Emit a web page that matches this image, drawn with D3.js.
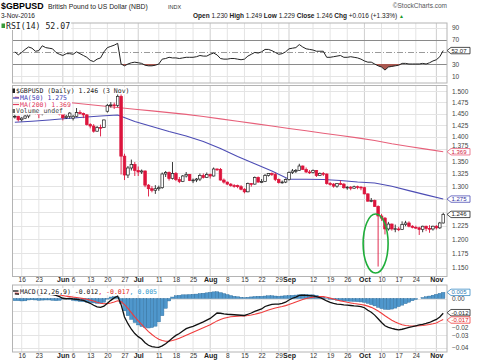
<!DOCTYPE html>
<html>
<head>
<meta charset="utf-8">
<script src="https://cdn.jsdelivr.net/npm/d3@7"></script>
<style>
body { margin: 0; background: #fff; }
svg { display: block; }
text { font-family: "Liberation Sans", Arial, sans-serif; }
.mono { font-family: "DejaVu Sans Mono", monospace; }
</style>
</head>
<body>
<div id="chart"></div>
<script>
// ---- data ----
var firstDay = "2016-05-12", lastDay = "2016-11-03";   // daily bars, weekdays only

var open = [
  1.4430,1.4440,1.4365,1.4400,1.4445,1.4600,1.4610,1.4500,1.4490,1.4630,
  1.4680,1.4690,1.4620,1.4640,1.4485,1.4410,1.4440,1.4400,1.4440,1.4520,
  1.4500,1.4470,1.4260,1.4230,1.4120,1.4200,1.4200,1.4550,1.4680,1.4690,
  1.4680,1.4880,1.3600,1.3220,1.3360,1.3430,1.3310,1.3280,1.3300,1.3020,
  1.2950,1.2920,1.2950,1.2970,1.3240,1.3270,1.3150,1.3250,1.3130,1.3090,
  1.3200,1.3230,1.3110,1.3120,1.3140,1.3210,1.3170,1.3230,1.3200,1.3340,
  1.3330,1.3120,1.3080,1.3040,1.3010,1.3010,1.2990,1.2940,1.2890,1.3050,
  1.3040,1.3170,1.3080,1.3090,1.3210,1.3250,1.3230,1.3130,1.3070,1.3080,
  1.3130,1.3270,1.3300,1.3310,1.3400,1.3330,1.3280,1.3270,1.3310,1.3210,
  1.3250,1.3240,1.3050,1.3040,1.3000,1.3050,1.3040,1.2970,1.2980,1.2960,
  1.2990,1.2980,1.2970,1.2850,1.2710,1.2720,1.2610,1.2430,1.2390,1.2190,
  1.2280,1.2190,1.2190,1.2180,1.2270,1.2300,1.2240,1.2220,1.2210,1.2180,
  1.2240,1.2200,1.2190,1.2240,1.2210,1.2300];
var high = [
  1.4470,1.4450,1.4420,1.4470,1.4630,1.4680,1.4620,1.4530,1.4650,1.4720,
  1.4770,1.4700,1.4660,1.4660,1.4510,1.4470,1.4530,1.4470,1.4620,1.4570,
  1.4520,1.4490,1.4290,1.4270,1.4230,1.4260,1.4370,1.4710,1.4750,1.4740,
  1.5020,1.5000,1.3650,1.3400,1.3530,1.3480,1.3390,1.3330,1.3310,1.3040,
  1.3000,1.3020,1.3010,1.3270,1.3300,1.3290,1.3480,1.3280,1.3180,1.3220,
  1.3280,1.3240,1.3150,1.3160,1.3250,1.3250,1.3270,1.3250,1.3370,1.3350,
  1.3360,1.3150,1.3090,1.3060,1.3040,1.3030,1.3020,1.2960,1.3070,1.3060,
  1.3190,1.3190,1.3140,1.3240,1.3260,1.3270,1.3270,1.3150,1.3110,1.3150,
  1.3290,1.3340,1.3340,1.3445,1.3410,1.3370,1.3320,1.3330,1.3320,1.3270,
  1.3280,1.3250,1.3080,1.3060,1.3060,1.3110,1.3060,1.3000,1.3000,1.3010,
  1.3010,1.3000,1.2990,1.2860,1.2770,1.2740,1.2630,1.2470,1.2410,1.2320,
  1.2290,1.2270,1.2230,1.2330,1.2340,1.2330,1.2260,1.2250,1.2230,1.2250,
  1.2250,1.2260,1.2250,1.2260,1.2320,1.2490];
var low = [
  1.4390,1.4330,1.4330,1.4380,1.4400,1.4560,1.4480,1.4400,1.4460,1.4610,
  1.4660,1.4580,1.4590,1.4460,1.4350,1.4380,1.4390,1.4350,1.4420,1.4480,
  1.4400,1.4240,1.4180,1.4090,1.4110,1.4010,1.4190,1.4520,1.4630,1.4600,
  1.4640,1.3230,1.3120,1.3160,1.3310,1.3200,1.3200,1.3240,1.2980,1.2800,
  1.2880,1.2850,1.2910,1.2950,1.3180,1.3110,1.3130,1.3100,1.3060,1.3080,
  1.3170,1.3100,1.3060,1.3080,1.3100,1.3150,1.3160,1.3150,1.3190,1.3300,
  1.3110,1.3050,1.3020,1.2990,1.2970,1.2960,1.2920,1.2860,1.2880,1.2990,
  1.3030,1.3070,1.3060,1.3080,1.3190,1.3200,1.3100,1.3050,1.3050,1.3060,
  1.3110,1.3240,1.3260,1.3300,1.3320,1.3260,1.3240,1.3250,1.3180,1.3200,
  1.3200,1.3030,1.3010,1.2970,1.2970,1.3020,1.2950,1.2930,1.2920,1.2950,
  1.2940,1.2920,1.2840,1.2700,1.2690,1.2600,1.1520,1.2340,1.2090,1.2160,
  1.2160,1.2130,1.2150,1.2170,1.2240,1.2220,1.2200,1.2190,1.2080,1.2130,
  1.2150,1.2120,1.2160,1.2180,1.2190,1.2290];
var close = [
  1.4440,1.4365,1.4400,1.4445,1.4600,1.4610,1.4500,1.4490,1.4630,1.4680,
  1.4690,1.4620,1.4640,1.4485,1.4410,1.4440,1.4510,1.4440,1.4520,1.4500,
  1.4470,1.4260,1.4230,1.4120,1.4200,1.4190,1.4360,1.4680,1.4690,1.4680,
  1.4880,1.3600,1.3220,1.3360,1.3430,1.3310,1.3280,1.3300,1.3020,1.2950,
  1.2920,1.2950,1.2970,1.3240,1.3270,1.3150,1.3250,1.3130,1.3090,1.3200,
  1.3230,1.3110,1.3120,1.3140,1.3210,1.3170,1.3230,1.3200,1.3340,1.3330,
  1.3120,1.3080,1.3040,1.3010,1.3005,1.2990,1.2940,1.2890,1.3050,1.3040,
  1.3170,1.3080,1.3090,1.3210,1.3250,1.3230,1.3130,1.3070,1.3080,1.3130,
  1.3270,1.3300,1.3310,1.3400,1.3330,1.3280,1.3270,1.3310,1.3210,1.3250,
  1.3240,1.3050,1.3040,1.3000,1.3050,1.3040,1.2970,1.2980,1.2960,1.2990,
  1.2980,1.2970,1.2850,1.2710,1.2720,1.2610,1.2430,1.2390,1.2190,1.2280,
  1.2190,1.2195,1.2180,1.2270,1.2300,1.2240,1.2220,1.2210,1.2180,1.2240,
  1.2200,1.2190,1.2240,1.2210,1.2300,1.2460];

// moving averages, read every 5th bar
var maIndex = [0,5,10,15,20,25,30,35,40,45,50,55,60,65,70,75,80,85,90,95,100,105,110,115,120,125];
var ma50 = [1.4310,1.4334,1.4359,1.4392,1.4418,1.4446,1.4468,1.4326,1.4220,1.4113,1.4019,1.3904,1.3758,
            1.3593,1.3444,1.3300,1.3136,1.3136,1.3132,1.3112,1.3082,1.3062,1.2997,1.2913,1.2831,1.2750];
var ma200 = [1.4865,1.4826,1.4787,1.4748,1.4709,1.4670,1.4631,1.4592,1.4558,1.4519,1.4482,1.4436,1.4384,
             1.4333,1.4282,1.4231,1.4178,1.4128,1.4078,1.4029,1.3978,1.3924,1.3855,1.3800,1.3745,1.3690];

var rsi = [
  50,45,49,54,58,56,51,52,60,57, 56,55,49,46,44,47,47,46,50,47,
  44,41,36,34,38,40,50,57,59,61, 64,30,27,30,32,33,32,31,28,27,
  27,28,30,38,39,41,40,40,39,40, 41,41,41,42,44,43,43,46,48,45,
  39,38,38,39,39,38,37,38,43,46, 49,48,50,54,54,52,49,46,47,50,
  55,56,57,62,58,55,54,53,51,51, 51,41,41,42,43,44,41,41,42,41,
  40,38,35,33,33,30,27,25,20,25, 26,27,28,31,31,30,30,30,30,31,
  30,32,35,37,42,52.07];

var macd = [
  0.0038,0.0036,0.0034,0.0033,0.0036,0.0038,0.0035,0.0031,0.0033,0.0034,
  0.0034,0.0031,0.0026,0.0015,0.0002,-0.0002,0.0001,-0.0004,-0.0006,-0.0012,
  -0.0016,-0.0028,-0.0039,-0.0055,-0.0068,-0.0072,-0.0062,-0.0038,-0.0015,0.0005,
  0.0020,-0.0050,-0.0150,-0.0205,-0.0250,-0.0285,-0.0310,-0.0330,-0.0360,-0.0380,
  -0.0392,-0.0396,-0.0398,-0.0385,-0.0368,-0.0345,-0.0322,-0.0300,-0.0285,-0.0265,
  -0.0245,-0.0234,-0.0226,-0.0214,-0.0202,-0.0190,-0.0176,-0.0162,-0.0140,-0.0118,
  -0.0120,-0.0125,-0.0128,-0.0130,-0.0132,-0.0134,-0.0136,-0.0138,-0.0128,-0.0118,
  -0.0105,-0.0095,-0.0085,-0.0065,-0.0055,-0.0048,-0.0046,-0.0045,-0.0040,-0.0030,
  -0.0012,0.0002,0.0012,0.0025,0.0028,0.0026,0.0024,0.0022,0.0015,0.0008,
  -0.0005,-0.0020,-0.0032,-0.0040,-0.0045,-0.0048,-0.0052,-0.0054,-0.0057,-0.0060,
  -0.0062,-0.0066,-0.0075,-0.0095,-0.0112,-0.0135,-0.0165,-0.0195,-0.0222,-0.0235,
  -0.0243,-0.0250,-0.0255,-0.0250,-0.0242,-0.0235,-0.0229,-0.0222,-0.0215,-0.0210,
  -0.0203,-0.0195,-0.0182,-0.0170,-0.0150,-0.0120];
var signal = [
  0.0045,0.0043,0.0042,0.0040,0.0039,0.0039,0.0038,0.0037,0.0036,0.0036,
  0.0035,0.0034,0.0033,0.0029,0.0024,0.0019,0.0015,0.0011,0.0008,0.0004,
  -0.0001,-0.0006,-0.0013,-0.0021,-0.0030,-0.0038,-0.0043,-0.0042,-0.0037,-0.0029,
  -0.0019,-0.0025,-0.0050,-0.0081,-0.0115,-0.0149,-0.0181,-0.0211,-0.0241,-0.0269,
  -0.0293,-0.0314,-0.0331,-0.0342,-0.0347,-0.0347,-0.0342,-0.0334,-0.0324,-0.0312,
  -0.0299,-0.0286,-0.0274,-0.0262,-0.0250,-0.0238,-0.0226,-0.0213,-0.0198,-0.0182,
  -0.0170,-0.0161,-0.0154,-0.0149,-0.0146,-0.0143,-0.0142,-0.0141,-0.0138,-0.0134,
  -0.0128,-0.0121,-0.0114,-0.0104,-0.0094,-0.0085,-0.0077,-0.0071,-0.0065,-0.0058,
  -0.0049,-0.0039,-0.0028,-0.0018,-0.0008,0.0000,0.0006,0.0011,0.0014,0.0016,
  0.0015,0.0010,0.0003,-0.0004,-0.0012,-0.0019,-0.0025,-0.0031,-0.0036,-0.0041,
  -0.0045,-0.0049,-0.0054,-0.0062,-0.0072,-0.0085,-0.0101,-0.0120,-0.0140,-0.0159,
  -0.0176,-0.0191,-0.0204,-0.0213,-0.0219,-0.0222,-0.0224,-0.0224,-0.0222,-0.0220,
  -0.0216,-0.0212,-0.0206,-0.0199,-0.0184,-0.0170];
// histogram as drawn (blue bars)
var macdHist = [
  -0.0018,-0.0018,-0.0020,-0.0019,-0.0012,-0.0010,-0.0012,-0.0015,-0.0013,-0.0012,
  -0.0012,-0.0015,-0.0018,-0.0015,-0.0005,-0.0004,-0.0006,-0.0015,-0.0020,-0.0024,
  -0.0026,-0.0030,-0.0033,-0.0036,-0.0040,-0.0038,-0.0030,-0.0005,0.0012,0.0015,
  0.0012,-0.0040,-0.0100,-0.0140,-0.0170,-0.0195,-0.0215,-0.0228,-0.0236,-0.0240,
  -0.0236,-0.0225,-0.0190,-0.0140,-0.0080,-0.0020,0.0012,0.0022,0.0026,0.0030,
  0.0030,0.0032,0.0034,0.0036,0.0040,0.0043,0.0046,0.0050,0.0054,0.0055,
  0.0048,0.0040,0.0032,0.0024,0.0018,0.0014,0.0010,0.0008,0.0010,0.0013,
  0.0016,0.0018,0.0018,0.0020,0.0022,0.0022,0.0020,0.0018,0.0020,0.0022,
  0.0024,0.0026,0.0028,0.0030,0.0032,0.0032,0.0030,0.0030,0.0026,0.0018,
  0.0010,0.0002,-0.0006,-0.0010,-0.0014,-0.0017,-0.0019,-0.0021,-0.0022,-0.0024,
  -0.0026,-0.0028,-0.0032,-0.0040,-0.0050,-0.0060,-0.0072,-0.0082,-0.0088,-0.0090,
  -0.0086,-0.0078,-0.0066,-0.0054,-0.0042,-0.0030,-0.0018,-0.0008,0.0000,0.0008,
  0.0014,0.0020,0.0027,0.0034,0.0042,0.0050];

// axis ticks (labels hidden under the value tags are left out)
var priceTicks = [1.150,1.175,1.200,1.225,1.250,1.275,1.300,1.325,1.350,1.375,1.400,1.425,1.450,1.475,1.500];
var priceLabels = [1.150,1.175,1.200,1.225,1.300,1.325,1.350,1.375,1.400,1.425,1.450,1.475,1.500];
var rsiTicks = [10,30,50,70,90];
var rsiLabels = [10,30,70,90];
var macdTicks = [0,-0.01,-0.02,-0.03,-0.04];
var macdLabels = [0,-0.02,-0.03,-0.04];
var dayTicks = ["2016-05-16","2016-05-23","2016-06-06","2016-06-13","2016-06-20","2016-06-27",
                "2016-07-11","2016-07-18","2016-07-25","2016-08-08","2016-08-15","2016-08-22",
                "2016-08-29","2016-09-12","2016-09-19","2016-09-26","2016-10-10","2016-10-17","2016-10-24"];
var monthTicks = ["2016-06-01","2016-07-01","2016-08-01","2016-09-01","2016-10-03","2016-11-01"];
var monthNames = ["Jun","Jul","Aug","Sep","Oct","Nov"];
var circledDay = "2016-10-07";   // flash crash, ringed in green

// ---- build the trading-day list ----
var dates = [];
for (var d = new Date(Date.UTC(2016, 4, 12)); d.toISOString().slice(0, 10) <= lastDay; d.setUTCDate(d.getUTCDate() + 1)) {
    var wd = d.getUTCDay();
    if (wd > 0 && wd < 6) dates.push(d.toISOString().slice(0, 10));
}
var bars = dates.map(function(dt, i) {
    return { date: dt, i: i, o: open[i], h: high[i], l: low[i], c: close[i] };
});

var width = 480, height = 363;
var L = 12, R = 447;
var pRsi = { top: 23, bottom: 83 },
    pMain = { top: 85.5, bottom: 276.5 },
    pMacd = { top: 285, bottom: 352 };

var svg = d3.select("#chart").append("svg")
    .attr("width", width).attr("height", height);

var x = d3.scaleLinear().domain([-0.83, 126.1]).range([L, R]);
var y = d3.scaleLog().domain([1.1349, 1.5124]).range([pMain.bottom, pMain.top]);
var yR = d3.scaleLinear().domain([-1.3, 97.5]).range([pRsi.bottom, pRsi.top]);
var yM = d3.scaleLinear().domain([-0.0435, 0.01098]).range([pMacd.bottom, pMacd.top]);

function idx(dt) { return dates.indexOf(dt); }

// clip paths
var defs = svg.append("defs");
[["cRsi", pRsi], ["cMain", pMain], ["cMacd", pMacd]].forEach(function(p) {
    defs.append("clipPath").attr("id", p[0]).append("rect")
        .attr("x", L).attr("y", p[1].top).attr("width", R - L).attr("height", p[1].bottom - p[1].top);
});

// ---- header ----
svg.append("text").attr("x", 1).attr("y", 9).style("font-size", "8.8px").style("font-weight", "bold").text("$GBPUSD");
svg.append("text").attr("x", 48).attr("y", 8.5).style("font-size", "6.8px").attr("fill", "#222")
    .text("British Pound to US Dollar (NBD)");
svg.append("text").attr("x", 168).attr("y", 8.5).style("font-size", "5.5px").attr("fill", "#333").text("INDX");
svg.append("text").attr("x", 1).attr("y", 17.5).style("font-size", "6.5px").attr("fill", "#222").text("3-Nov-2016");
svg.append("text").attr("x", 447).attr("y", 7.5).attr("text-anchor", "end").style("font-size", "6.5px")
    .attr("fill", "#555").text("\u00a9StockCharts.com");

var hdr = svg.append("text").attr("x", 193).attr("y", 17.5).style("font-size", "6.5px").attr("fill", "#222");
[["Open ", 1], ["1.230 ", 0], ["High ", 1], ["1.249 ", 0], ["Low ", 1], ["1.229 ", 0],
 ["Close ", 1], ["1.246 ", 0], ["Chg ", 1], ["+0.016 (+1.33%) ", 0]].forEach(function(p) {
    hdr.append("tspan").style("font-weight", p[1] ? "bold" : "normal").text(p[0]);
});
hdr.append("tspan").attr("fill", "#1a9a2a").style("font-size", "5px").text("\u25b2");

// ---- panel grids ----
function vGrid(panel) {
    var g = svg.append("g");
    g.selectAll("line.wk").data(dayTicks).enter().append("line")
        .attr("x1", function(d) { return x(idx(d)); }).attr("x2", function(d) { return x(idx(d)); })
        .attr("y1", panel.top).attr("y2", panel.bottom)
        .attr("stroke", "#e4e4e4").attr("stroke-width", 1);
    g.selectAll("line.mo").data(monthTicks).enter().append("line")
        .attr("x1", function(d) { return x(idx(d)); }).attr("x2", function(d) { return x(idx(d)); })
        .attr("y1", panel.top).attr("y2", panel.bottom)
        .attr("stroke", "#cfcfcf").attr("stroke-width", 1);
}
function hGrid(panel, ticks, scale, color) {
    svg.append("g").selectAll("line").data(ticks).enter().append("line")
        .attr("x1", L).attr("x2", R)
        .attr("y1", function(d) { return Math.round(scale(d)) + 0.5; })
        .attr("y2", function(d) { return Math.round(scale(d)) + 0.5; })
        .attr("stroke", color || "#e4e4e4");
}

vGrid(pRsi); vGrid(pMain); vGrid(pMacd);
hGrid(pRsi, [10, 90], yR);
hGrid(pMain, priceTicks, y);
hGrid(pMacd, macdTicks, yM);

// RSI reference lines
hGrid(pRsi, [30, 70], yR, "#8a8a8a");
svg.append("line").attr("x1", L).attr("x2", R)
    .attr("y1", Math.round(yR(50)) + 0.5).attr("y2", Math.round(yR(50)) + 0.5)
    .attr("stroke", "#9a9a9a").attr("stroke-dasharray", "6,2,1,2");

// ---- RSI ----
var gR = svg.append("g").attr("clip-path", "url(#cRsi)");
gR.append("path").datum(rsi)
    .attr("d", d3.area().x(function(d, i) { return x(i); })
        .y0(yR(30)).y1(function(d) { return yR(Math.min(d, 30)); }))
    .attr("fill", "#a9574f");
gR.append("path").datum(rsi)
    .attr("d", d3.line().x(function(d, i) { return x(i); }).y(function(d) { return yR(d); }))
    .attr("fill", "none").attr("stroke", "#222").attr("stroke-width", 1);

// ---- price panel ----
var gP = svg.append("g").attr("clip-path", "url(#cMain)");
var maLine = function(vals) {
    return d3.line().x(function(d, k) { return x(maIndex[k]); }).y(function(d) { return y(d); })(vals);
};
gP.append("path").attr("d", maLine(ma200)).attr("fill", "none").attr("stroke", "#e7607a").attr("stroke-width", 1.1);
gP.append("path").attr("d", maLine(ma50)).attr("fill", "none").attr("stroke", "#4c4cb4").attr("stroke-width", 1.1);

var up = function(b) { return b.c >= b.o; };
var red = "#dc143c";
gP.selectAll("line.wick").data(bars).enter().append("line")
    .attr("x1", function(b) { return x(b.i); }).attr("x2", function(b) { return x(b.i); })
    .attr("y1", function(b) { return y(b.h); }).attr("y2", function(b) { return y(b.l); })
    .attr("stroke", function(b) { return up(b) ? "#222" : red; }).attr("stroke-width", 0.9);
gP.selectAll("rect.body").data(bars).enter().append("rect")
    .attr("x", function(b) { return x(b.i) - 1.3; })
    .attr("width", 2.6)
    .attr("y", function(b) { return y(Math.max(b.o, b.c)); })
    .attr("height", function(b) { return Math.max(0.8, y(Math.min(b.o, b.c)) - y(Math.max(b.o, b.c))); })
    .attr("fill", function(b) { return up(b) ? "#fff" : red; })
    .attr("stroke", function(b) { return up(b) ? "#222" : red; })
    .attr("stroke-width", 0.7);

// green ring round the flash-crash wick
var ci = idx(circledDay);
svg.append("ellipse")
    .attr("cx", x(ci) - 2.5).attr("cy", y(1.1925))
    .attr("rx", 12.5).attr("ry", 29.5)
    .attr("fill", "none").attr("stroke", "#1fae3a").attr("stroke-width", 1.6);

// ---- MACD ----
var gM = svg.append("g").attr("clip-path", "url(#cMacd)");
gM.selectAll("rect").data(macdHist).enter().append("rect")
    .attr("x", function(d, i) { return x(i) - 1.71; })
    .attr("width", 3.42)
    .attr("y", function(d) { return yM(Math.max(0, d)); })
    .attr("height", function(d) { return Math.abs(yM(d) - yM(0)); })
    .attr("fill", "#4f97cc").attr("stroke", "#2c6a99").attr("stroke-width", 0.4);
gM.append("path").datum(signal)
    .attr("d", d3.line().x(function(d, i) { return x(i); }).y(function(d) { return yM(d); }))
    .attr("fill", "none").attr("stroke", "#f03c3c").attr("stroke-width", 1.1);
gM.append("path").datum(macd)
    .attr("d", d3.line().x(function(d, i) { return x(i); }).y(function(d) { return yM(d); }))
    .attr("fill", "none").attr("stroke", "#111").attr("stroke-width", 1.3);

// ---- panel borders ----
[pRsi, pMain, pMacd].forEach(function(p) {
    svg.append("rect").attr("x", L + 0.5).attr("y", p.top).attr("width", R - L - 0.5)
        .attr("height", p.bottom - p.top).attr("fill", "none").attr("stroke", "#b4b4b4");
});

// ---- right axes ----
// labels that sit right against a value tag are nudged clear of it
function nudge(v) {
    if (Math.abs(v - 1.375) < 1e-9) return -3.5;
    if (Math.abs(v + 0.02) < 1e-9) return 4;
    return 0;
}
function rightAxis(scale, ticks, fmt) {
    var g = svg.append("g").attr("transform", "translate(" + (R + 3) + ",0)")
        .call(d3.axisRight(scale).tickValues(ticks).tickFormat(fmt).tickSize(0).tickPadding(2));
    g.select(".domain").remove();
    g.selectAll("text").style("font-family", "'Liberation Sans', Arial, sans-serif")
        .style("font-size", "6.5px").attr("fill", "#444")
        .attr("y", function(d) { return nudge(d); });
}
rightAxis(yR, rsiLabels, d3.format("d"));
rightAxis(y, priceLabels, d3.format(".3f"));
rightAxis(yM, macdLabels, d3.format(".2f"));

// value tags on the right edge
function tag(yy, txt, stroke, fill, dy) {
    var g = svg.append("g").attr("transform", "translate(" + R + "," + (yy + (dy || 0)) + ")");
    g.append("path").attr("d", "M0,0L4,-3.2L23,-3.2L23,3.2L4,3.2Z")
        .attr("fill", "#fff").attr("stroke", stroke).attr("stroke-width", 0.8);
    g.append("text").attr("x", 4.5).attr("y", 2.1).style("font-size", "6px").attr("fill", fill).text(txt);
}
tag(yR(rsi[rsi.length - 1]), "52.07", "#222", "#222");
tag(y(ma200[ma200.length - 1]), "1.369", "#e7607a", "#d02040");
tag(y(ma50[ma50.length - 1]), "1.275", "#4c4cb4", "#3030a0");
tag(y(close[close.length - 1]), "1.246", "#222", "#222");
tag(yM(macdHist[macdHist.length - 1]), "0.005", "#3a8cc4", "#2a7ab4");
tag(yM(macd[macd.length - 1]), "-0.012", "#222", "#222", -0.6);
tag(yM(signal[signal.length - 1]), "-0.017", "#f03c3c", "#e02020", 0.6);

// ---- x axes (under price and MACD panels) ----
function xAxis(yy) {
    var gd = svg.append("g").attr("transform", "translate(0," + yy + ")")
        .call(d3.axisBottom(x).tickValues(dayTicks.map(idx))
            .tickFormat(function(i) { return +dates[i].slice(8); }).tickSize(0).tickPadding(0));
    gd.select(".domain").remove();
    gd.selectAll("text").style("font-family", "'Liberation Sans', Arial, sans-serif")
        .style("font-size", "6.5px").attr("fill", "#333");
    var gm = svg.append("g").attr("transform", "translate(0," + yy + ")")
        .call(d3.axisBottom(x).tickValues(monthTicks.map(idx))
            .tickFormat(function(i, k) { return monthNames[k]; }).tickSize(0).tickPadding(0));
    gm.select(".domain").remove();
    gm.selectAll("text").style("font-family", "'Liberation Sans', Arial, sans-serif")
        .style("font-size", "7px").style("font-weight", "bold").attr("fill", "#222");
}
xAxis(pMain.bottom + 1);
xAxis(pMacd.bottom + 1);

// ---- legends ----
function legendLine(xx, yy, parts, cls, size) {
    var t = svg.append("text").attr("x", xx).attr("y", yy).attr("class", cls || "mono")
        .style("font-size", size || "6.5px");
    parts.forEach(function(p) { t.append("tspan").attr("fill", p[1]).text(p[0]); });
    var bb = t.node().getBBox();
    svg.insert("rect", function() { return t.node(); })
        .attr("x", bb.x - 1).attr("y", bb.y + 0.5).attr("width", bb.width + 2).attr("height", bb.height - 1)
        .attr("fill", "#fff");
    return t;
}
// RSI legend
legendLine(6, 28.5, [["RSI(14) 52.07", "#222"]], "mono", "8.2px");
svg.append("rect").attr("x", 1.5).attr("y", 23.5).attr("width", 3.5).attr("height", 4.5).attr("fill", "#3a9a3a");

// price legend
legendLine(16, 93, [["$GBPUSD (Daily) 1.246 (3 Nov)", "#222"]]);
legendLine(20, 100, [["MA(50) 1.275", "#3c3cb4"]]);
legendLine(20, 106.5, [["MA(200) 1.369", "#e0405e"]]);
legendLine(16, 113, [["Volume undef", "#444"]]);
svg.append("rect").attr("x", 12.5).attr("y", 88.5).attr("width", 2.5).attr("height", 4.5).attr("fill", "#222");
svg.append("line").attr("x1", 13).attr("x2", 19).attr("y1", 98).attr("y2", 98).attr("stroke", "#3c3cb4").attr("stroke-width", 1.2);
svg.append("line").attr("x1", 13).attr("x2", 19).attr("y1", 104.5).attr("y2", 104.5).attr("stroke", "#e0405e").attr("stroke-width", 1.2);
svg.append("rect").attr("x", 12.5).attr("y", 109).attr("width", 2.5).attr("height", 4).attr("fill", "#666");

// MACD legend
legendLine(20, 293.5, [["MACD(12,26,9) -0.012", "#222"], [", -0.017", "#e02020"], [", 0.005", "#3399cc"]]);
svg.append("line").attr("x1", 13).attr("x2", 18.5).attr("y1", 291).attr("y2", 291).attr("stroke", "#111").attr("stroke-width", 1.3);
</script>
</body>
</html>
